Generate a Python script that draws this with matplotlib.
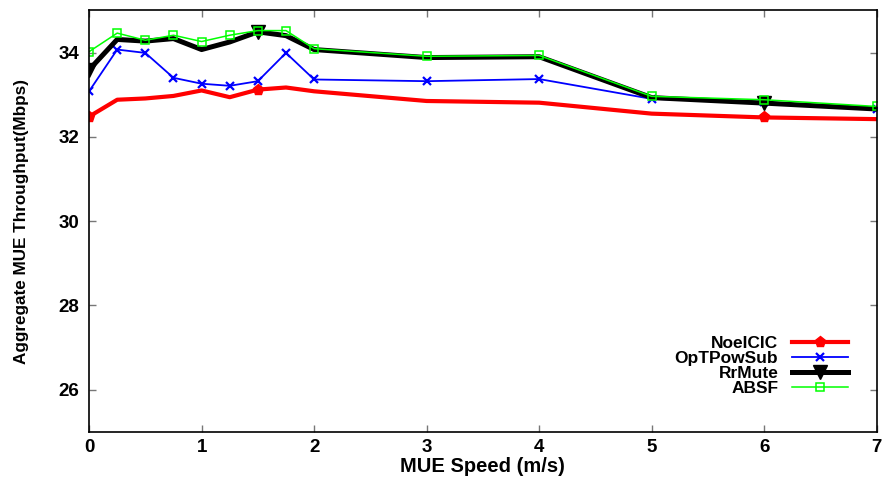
import matplotlib
matplotlib.use('Agg')
import matplotlib.pyplot as plt

# MUE speed (m/s)
speed = [0, 0.25, 0.5, 0.75, 1, 1.25, 1.5, 1.75, 2, 3, 4, 5, 6, 7]

# Aggregate MUE throughput (Mbps) per scheme
noeicic = [32.48, 32.88, 32.91, 32.97, 33.10, 32.94, 33.12, 33.17, 33.08, 32.85, 32.81, 32.55, 32.46, 32.42]
optpowsub = [33.08, 34.07, 33.99, 33.40, 33.26, 33.21, 33.32, 33.99, 33.36, 33.32, 33.37, 32.90, 32.83, 32.65]
rrmute = [33.59, 34.31, 34.27, 34.33, 34.07, 34.25, 34.49, 34.40, 34.07, 33.88, 33.90, 32.93, 32.80, 32.66]
absf = [34.02, 34.46, 34.29, 34.41, 34.26, 34.41, 34.52, 34.52, 34.09, 33.91, 33.93, 32.96, 32.88, 32.72]

plt.rcParams['font.family'] = ['Liberation Sans', 'DejaVu Sans']

fig = plt.figure(figsize=(8.82, 4.83), dpi=100)
ax = fig.add_axes([0.101, 0.1056, 0.893, 0.873])

ax.plot(speed, noeicic, color='#ff0000', lw=3.0, marker='p', ms=8, markevery=6, label='NoeICIC')
ax.plot(speed, optpowsub, color='#0000ff', lw=1.3, marker='x', ms=6, mew=1.6, label='OpTPowSub')
ax.plot(speed, rrmute, color='black', lw=3.6, marker='v', ms=10, markevery=6, label='RrMute')
ax.plot(speed, absf, color='#00ff00', lw=1.1, marker='s', ms=6, mfc='none', mew=1.1, label='ABSF')

ax.set_xlim(0, 7)
ax.set_ylim(25, 35)
ax.set_xticks(range(0, 8))
ax.set_yticks([26, 28, 30, 32, 34])
ax.tick_params(direction='in', top=True, right=True, length=5, width=1, color='#777777',
               labelsize=13.5, pad=7)
ax.tick_params(axis='x', pad=5)
for lab in ax.get_xticklabels() + ax.get_yticklabels():
    lab.set_fontweight('bold')
for s in ax.spines.values():
    s.set_linewidth(1.2)

ax.set_xlabel('MUE Speed (m/s)', fontsize=14.5, fontweight='bold', labelpad=1)
ax.set_ylabel('Aggregate MUE Throughput(Mbps)', fontsize=12.3, fontweight='bold', labelpad=21)

leg = ax.legend(loc='lower right', frameon=False, markerfirst=False,
                prop={'weight': 'bold', 'size': 12.5}, handlelength=3.2, labelspacing=0.0,
                borderaxespad=0.0, handletextpad=0.8, bbox_to_anchor=(0.972, 0.068))

fig.savefig('out.png', dpi=100)
